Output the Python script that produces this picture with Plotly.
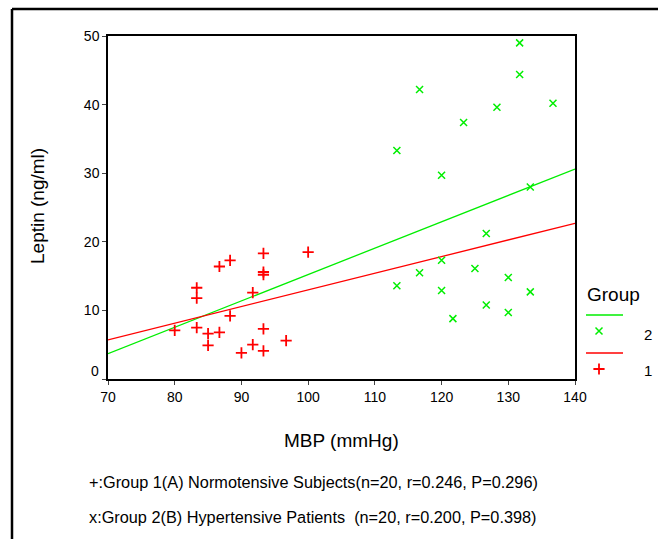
import plotly.graph_objects as go

# group 1 (A) normotensive subjects, red "+"
g1_mbp = [80.0, 83.3, 83.3, 83.3, 85.0, 85.0, 86.7, 86.7, 88.3, 88.3,
          90.0, 91.7, 91.7, 93.3, 93.3, 93.3, 93.3, 93.3, 96.7, 100.0]
g1_leptin = [7.1, 13.3, 11.8, 7.5, 6.6, 4.9, 16.4, 6.8, 17.3, 9.2,
             3.8, 12.6, 5.0, 18.3, 15.6, 15.2, 7.3, 4.1, 5.6, 18.5]

# group 2 (B) hypertensive patients, green "x"
g2_mbp = [131.7, 131.7, 116.7, 128.3, 136.7, 123.3, 113.3, 120.0, 133.3, 113.3,
          116.7, 120.0, 120.0, 121.7, 125.0, 126.7, 126.7, 130.0, 130.0, 133.3]
g2_leptin = [49.0, 44.4, 42.2, 39.6, 40.2, 37.4, 33.3, 29.7, 28.0, 13.6,
             15.5, 17.3, 12.9, 8.8, 16.1, 21.2, 10.8, 14.8, 9.7, 12.7]

# fit lines at both ends of the x axis
fit_x = [70, 140]
g1_fit = [5.7, 22.7]
g2_fit = [3.7, 30.6]

x_ticks = [70, 80, 90, 100, 110, 120, 130, 140]
y_ticks = [0, 10, 20, 30, 40, 50]

notes = ["+:Group 1(A) Normotensive Subjects(n=20, r=0.246, P=0.296)",
         "x:Group 2(B) Hypertensive Patients  (n=20, r=0.200, P=0.398)"]

GREEN = "#00ee00"
RED = "#ff0000"
FONT = "Liberation Sans, Arial, sans-serif"

# plot box in pixels: left 108, right 575, top 36, bottom 379; paper runs 108..658
def px(x):
    return (x - 108) / 550

def py(y):
    return (379 - y) / 343

x_mark = dict(symbol="x-thin-open", size=7, color=GREEN, line=dict(color=GREEN, width=1.5))
plus_mark = dict(symbol="cross-thin-open", size=8, color=RED, line=dict(color=RED, width=1.8))

fig = go.Figure()

fig.add_trace(go.Scatter(x=fit_x, y=g2_fit, mode="lines",
                         line=dict(color=GREEN, width=1.3), showlegend=False))
fig.add_trace(go.Scatter(x=fit_x, y=g1_fit, mode="lines",
                         line=dict(color=RED, width=1.3), showlegend=False))
fig.add_trace(go.Scatter(x=g2_mbp, y=g2_leptin, mode="markers", showlegend=False,
                         marker=x_mark))
fig.add_trace(go.Scatter(x=g1_mbp, y=g1_leptin, mode="markers", showlegend=False,
                         marker=plus_mark))

# legend drawn on a small pixel-mapped axis to the right of the plot
fig.add_trace(go.Scatter(x=[599], y=[331], mode="markers", xaxis="x2", yaxis="y2",
                         showlegend=False, marker=x_mark))
fig.add_trace(go.Scatter(x=[599], y=[369], mode="markers", xaxis="x2", yaxis="y2",
                         showlegend=False, marker=plus_mark))

shapes = [
    dict(type="line", xref="x2", yref="y2", x0=586, x1=623, y0=315, y1=315,
         line=dict(color=GREEN, width=1.3)),
    dict(type="line", xref="x2", yref="y2", x0=586, x1=623, y0=353, y1=353,
         line=dict(color=RED, width=1.3)),
    # outer frame (top and left edges)
    dict(type="line", xref="paper", yref="paper", x0=px(12), x1=px(660),
         y0=py(9), y1=py(9), line=dict(color="black", width=2.5)),
    dict(type="line", xref="paper", yref="paper", x0=px(12), x1=px(12),
         y0=py(9), y1=py(545), line=dict(color="black", width=2.5)),
]

def note(text, x, y, size, **kw):
    d = dict(text=text, xref="paper", yref="paper", x=px(x), y=py(y),
             xanchor="center", yanchor="middle", showarrow=False,
             font=dict(size=size))
    d.update(kw)
    return d

annotations = [
    dict(text="Group", xref="x2", yref="y2", x=585, y=294, xanchor="left",
         yanchor="middle", showarrow=False, font=dict(size=19)),
    dict(text="2", xref="x2", yref="y2", x=648, y=334, xanchor="center",
         yanchor="middle", showarrow=False, font=dict(size=15)),
    dict(text="1", xref="x2", yref="y2", x=648, y=370, xanchor="center",
         yanchor="middle", showarrow=False, font=dict(size=15)),
    note("0", 101, 371, 14, xanchor="right"),
    note("MBP (mmHg)", 341, 441, 19),
    note("Leptin (ng/ml)", 37, 206, 19, textangle=-90),
]
for i, t in enumerate(notes):
    annotations.append(note(t, 87, 482 + 35 * i, 16.3, xanchor="left"))

fig.update_layout(
    template="none",
    width=658, height=539,
    margin=dict(l=108, r=0, t=36, b=160),
    paper_bgcolor="white", plot_bgcolor="white",
    font=dict(family=FONT, color="black"),
    xaxis=dict(domain=[0, 467 / 550], range=[70, 140], tickvals=x_ticks,
               showgrid=False, zeroline=False, showline=True, mirror=True,
               linecolor="black", linewidth=1.5, ticks="outside", ticklen=4,
               tickcolor="#444", tickfont=dict(size=14), automargin=False),
    yaxis=dict(range=[0, 50], tickvals=y_ticks,
               ticktext=["" if v == 0 else str(v) for v in y_ticks],
               showgrid=False, zeroline=False, showline=True, mirror=True,
               linecolor="black", linewidth=1.5, ticks="outside", ticklen=4,
               tickcolor="#444", tickfont=dict(size=14), automargin=False),
    xaxis2=dict(domain=[467 / 550, 1], range=[575, 658], anchor="y2", visible=False),
    yaxis2=dict(domain=[0, 1], range=[379, 36], anchor="x2", visible=False),
    shapes=shapes,
    annotations=annotations,
)

fig.write_html(
    "out.html",
    config={"displayModeBar": False, "responsive": False},
    post_script="document.body.style.margin='0px';"
                "document.body.style.overflow='hidden';"
                "Plotly.relayout('{plot_id}', {width: 658, height: 539});",
)
